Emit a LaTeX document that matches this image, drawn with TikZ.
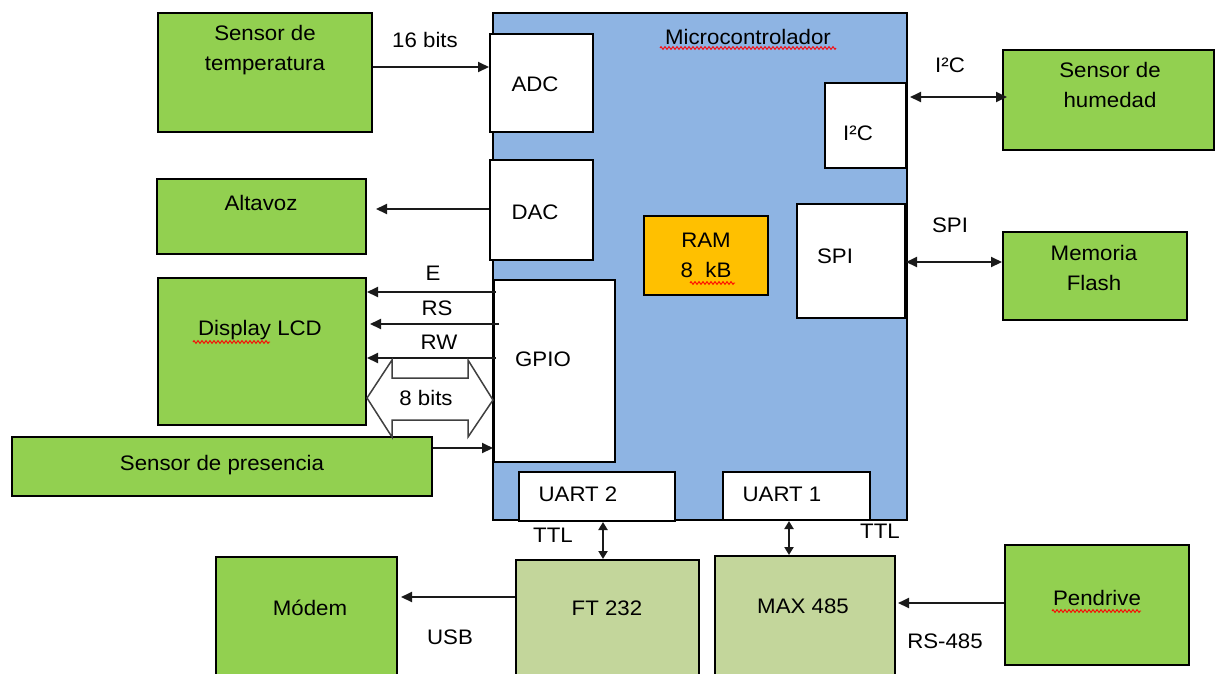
\documentclass[tikz,border=0pt]{standalone}
\usepackage{fontspec}
\setmainfont{Liberation Sans}[FakeStretch=1.06]
\usetikzlibrary{arrows.meta,decorations.pathmorphing}
\definecolor{mcublue}{HTML}{8EB4E3}
\definecolor{grn}{HTML}{92D050}
\definecolor{lgrn}{HTML}{C3D69B}
\definecolor{ramor}{HTML}{FFC000}
\definecolor{lnk}{HTML}{1A1A1A}
\tikzset{
  box/.style={draw=black, line width=2pt, inner sep=0pt, rectangle},
  gbox/.style={box, fill=grn},
  wbox/.style={box, fill=white},
  txt/.style={inner sep=0pt, font=\fontsize{21}{30}\selectfont, align=center, text=black},
  arr/.style={draw=lnk, line width=2pt, -{Triangle[length=11pt,width=10pt]}},
  darr/.style={draw=lnk, line width=2pt, {Triangle[length=11pt,width=10pt]}-{Triangle[length=11pt,width=10pt]}},
  varr/.style={draw=lnk, line width=2.5pt, {Triangle[length=8pt,width=9pt]}-{Triangle[length=8pt,width=9pt]}},
  squig/.style={draw=red, line width=0.9pt, decorate, decoration={zigzag, segment length=4pt, amplitude=1.4pt}}
}
\begin{document}
\begin{tikzpicture}[x=1pt,y=-1pt]
\useasboundingbox (0,0) rectangle (1217,673);
% microcontroller
\node[box, fill=mcublue, minimum width=414pt, minimum height=507pt] (mcu) at (700,266.5) {};
\node[txt] (mcut) at (748,37) {Microcontrolador};
\node[wbox, minimum width=103pt, minimum height=98pt] (adc) at (541.5,83) {};
\node[txt] (adct) at (535,84) {ADC};
\node[wbox, minimum width=103pt, minimum height=100pt] (dac) at (541.5,210) {};
\node[txt] (dact) at (535,212) {DAC};
\node[wbox, minimum width=121pt, minimum height=182pt] (gpio) at (554.5,371) {};
\node[txt] (gpiot) at (543,359) {GPIO};
\node[wbox, minimum width=81pt, minimum height=85pt] (i2c) at (865.5,125.5) {};
\node[txt] (i2ct) at (858,133) {I²C};
\node[wbox, minimum width=108pt, minimum height=114pt] (spi) at (851,261) {};
\node[txt] (spit) at (835,256) {SPI};
\node[box, fill=ramor, minimum width=124pt, minimum height=79pt] (ram) at (706,255.5) {};
\node[txt] (ramt) at (706,255) {RAM\\8\ \ kB};
\node[wbox, minimum width=156pt, minimum height=49pt] (uart2) at (597,496.5) {};
\node[txt] (uart2t) at (578,494) {UART 2};
\node[wbox, minimum width=147pt, minimum height=48pt] (uart1) at (796.5,496) {};
\node[txt] (uart1t) at (782,494) {UART 1};
% peripherals
\node[gbox, minimum width=214pt, minimum height=119pt] (temp) at (265,72.5) {};
\node[txt] (tempt) at (265,50.5) {Sensor de\\temperatura};
\node[gbox, minimum width=209pt, minimum height=75pt] (alt) at (261.5,216.5) {};
\node[txt] (altt) at (261,203) {Altavoz};
\node[gbox, minimum width=208pt, minimum height=147pt] (lcd) at (262,351.5) {};
\node[txt] (lcdt) at (260,330) {Display LCD};
\node[gbox, minimum width=420pt, minimum height=59pt] (pres) at (222,466.5) {};
\node[txt] (prest) at (222,465) {Sensor de presencia};
\node[gbox, minimum width=211pt, minimum height=100pt] (hum) at (1108.5,100) {};
\node[txt] (humt) at (1110,85) {Sensor de\\humedad};
\node[gbox, minimum width=184pt, minimum height=88pt] (flash) at (1095,276) {};
\node[txt] (flasht) at (1094,268) {Memoria\\Flash};
\node[gbox, minimum width=184pt, minimum height=120pt] (pen) at (1097,605) {};
\node[txt] (pent) at (1097,598) {Pendrive};
\node[gbox, minimum width=181pt, minimum height=123pt] (modem) at (306.5,618.5) {};
\node[txt] (modemt) at (310,608) {Módem};
\node[box, fill=lgrn, minimum width=183pt, minimum height=130pt] (ft) at (607.5,625) {};
\node[txt] (ftt) at (607,608) {FT 232};
\node[box, fill=lgrn, minimum width=180pt, minimum height=134pt] (max) at (805,623) {};
\node[txt] (maxt) at (803,606) {MAX 485};
% y levels
\coordinate (y16) at (0,67);
\coordinate (yDac) at (0,209);
\coordinate (yE) at (0,292);
\coordinate (yRS) at (0,324);
\coordinate (yRW) at (0,358);
\coordinate (yPr) at (0,448);
\coordinate (yI2) at (0,97);
\coordinate (ySPI) at (0,262);
\coordinate (yUSB) at (0,597);
\coordinate (y485) at (0,603);
\coordinate (xU2) at (603,0);
\coordinate (xU1) at (789,0);
% connectors
\draw[arr] (temp.east |- y16) -- (adc.west |- y16);
\node[txt] (l16) at (425,40) {16 bits};
\draw[arr, shorten >=9pt] (dac.west |- yDac) -- (alt.east |- yDac);
\draw[arr, shorten <=-3pt] (gpio.west |- yE) -- (lcd.east |- yE);
\node[txt] (lE) at (433,273) {E};
\draw[arr, shorten <=-6pt, shorten >=3pt] (gpio.west |- yRS) -- (lcd.east |- yRS);
\node[txt] (lRS) at (437,308) {RS};
\draw[arr, shorten <=-3pt] (gpio.west |- yRW) -- (lcd.east |- yRW);
\node[txt] (lRW) at (439,342) {RW};
% 8 bits bidirectional block arrow
\draw[draw=black!75, fill=white, line width=1.5pt, line join=miter]
  (367,398) -- (392,360) -- (392,378) -- (468,378) -- (468,360) -- (493,400)
  -- (468,437) -- (468,420) -- (392,420) -- (392,437) -- cycle;
\node[txt] (l8) at (426,398) {8 bits};
\draw[arr] (pres.east |- yPr) -- (gpio.west |- yPr);
\draw[darr, shorten <=3pt, shorten >=-5pt] (i2c.east |- yI2) -- (hum.west |- yI2);
\node[txt] (lI2) at (950,65) {I²C};
\draw[darr] (spi.east |- ySPI) -- (flash.west |- ySPI);
\node[txt] (lSPI) at (950,225) {SPI};
\draw[varr] (uart2.south -| xU2) -- (ft.north -| xU2);
\node[txt] (lTTL2) at (553,535) {TTL};
\draw[varr] (uart1.south -| xU1) -- (max.north -| xU1);
\node[txt] (lTTL1) at (880,531) {TTL};
\draw[arr, shorten >=3pt] (ft.west |- yUSB) -- (modem.east |- yUSB);
\node[txt] (lUSB) at (450,637) {USB};
\draw[arr, shorten >=2pt] (pen.west |- y485) -- (max.east |- y485);
\node[txt] (l485) at (945,641) {RS-485};
% spell-check squiggles
\draw[squig] (660,48) -- (836,48);
\draw[squig] (193,342) -- (270,342);
\draw[squig] (690,283) -- (735,283);
\draw[squig] (1052,611) -- (1141,611);
\end{tikzpicture}
\end{document}
